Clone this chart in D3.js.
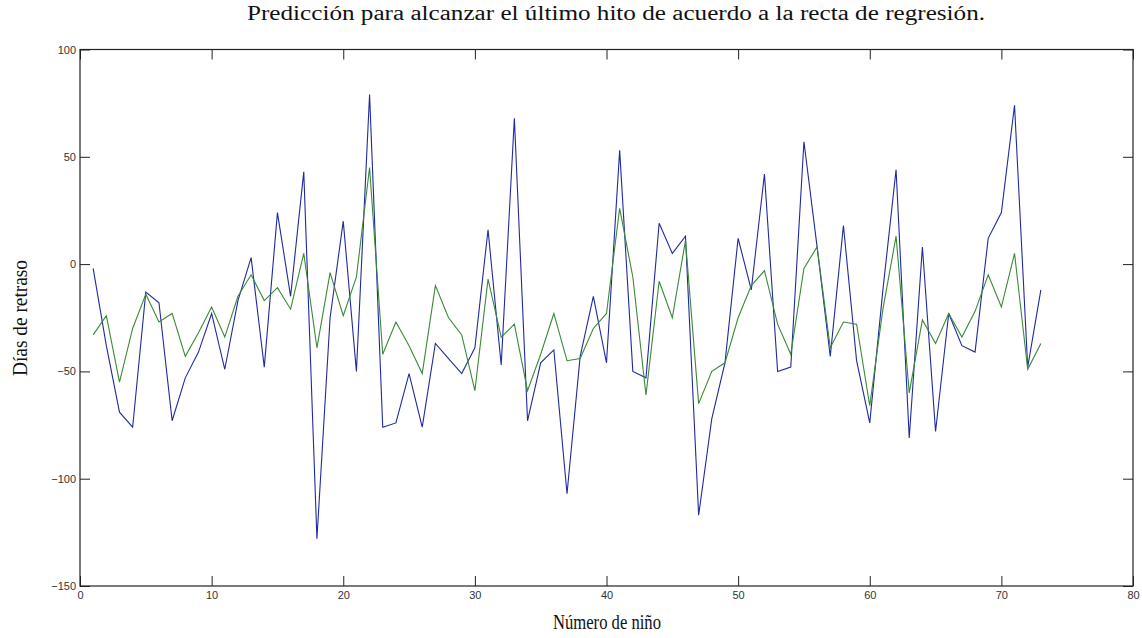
<!DOCTYPE html>
<html>
<head>
<meta charset="utf-8">
<script src="https://cdn.jsdelivr.net/npm/d3@7"></script>
<style>
  html, body { margin: 0; padding: 0; background: #fff; }
  svg { display: block; }
</style>
</head>
<body>
<svg id="chart" width="1142" height="638"></svg>
<script>
// ---- data ----
const ninos = d3.range(1, 74);
const retrasoReal = [
  -2, -38, -69, -76, -13, -18, -73, -53, -41, -23,
  -49, -17, 3, -48, 24, -15, 43, -128, -25, 20,
  -50, 79, -76, -74, -51, -76, -37, -44, -51, -39,
  16, -47, 68, -73, -46, -40, -107, -43, -15, -46,
  53, -50, -53, 19, 5, 13, -117, -72, -46, 12,
  -12, 42, -50, -48, 57, 8, -43, 18, -45, -74,
  -12, 44, -81, 8, -78, -23, -38, -41, 12, 24,
  74, -48, -12
];
const retrasoPredicho = [
  -33, -24, -55, -30, -14, -27, -23, -43, -32, -20,
  -34, -15, -5, -17, -11, -21, 5, -39, -4, -24,
  -6, 45, -42, -27, -38, -51, -10, -25, -33, -59,
  -7, -34, -28, -59, -42, -23, -45, -44, -30, -23,
  26, -6, -61, -8, -25, 11, -65, -50, -46, -25,
  -10, -3, -28, -42, -2, 8, -39, -27, -28, -66,
  -21, 13, -60, -26, -37, -23, -34, -22, -5, -20,
  5, -49, -37
];
const xTicks = [0, 10, 20, 30, 40, 50, 60, 70, 80];
const yTicks = [-150, -100, -50, 0, 50, 100];
const titulo = "Predicción para alcanzar el último hito de acuerdo a la recta de regresión.";
const etiquetaX = "Número de niño";
const etiquetaY = "Días de retraso";

// ---- layout ----
const svg = d3.select("#chart");
const L = 80, R = 1133, T = 49.5, B = 586;
const x = d3.scaleLinear().domain([0, 80]).range([L, R]);
const y = d3.scaleLinear().domain([-150, 100]).range([B, T]);

svg.append("rect").attr("width", 1142).attr("height", 638).attr("fill", "#fff");

const tickFont = "'Liberation Sans Narrow', 'Arial Narrow', 'Liberation Sans', sans-serif";
const tickLen = 10;

const gB = svg.append("g").attr("transform", `translate(0,${B})`)
  .call(d3.axisBottom(x).tickValues(xTicks).tickFormat(d3.format("d")).tickSizeInner(-tickLen).tickSizeOuter(0).tickPadding(6));
const gT = svg.append("g").attr("transform", `translate(0,${T})`)
  .call(d3.axisTop(x).tickValues(xTicks).tickFormat("").tickSizeInner(-tickLen).tickSizeOuter(0));
const gL = svg.append("g").attr("transform", `translate(${L},0)`)
  .call(d3.axisLeft(y).tickValues(yTicks).tickFormat(d3.format("d")).tickSizeInner(-tickLen).tickSizeOuter(0).tickPadding(4));
const gR = svg.append("g").attr("transform", `translate(${R},0)`)
  .call(d3.axisRight(y).tickValues(yTicks).tickFormat("").tickSizeInner(-tickLen).tickSizeOuter(0));

[gB, gT, gL, gR].forEach(g => {
  g.select(".domain").remove();
  g.selectAll(".tick line").attr("stroke", "#222").attr("stroke-width", 1);
  g.selectAll(".tick text").attr("font-family", tickFont).attr("font-size", 11).attr("fill", "#333");
});
gB.selectAll(".tick text").attr("dy", "0.6em");

svg.append("rect")
  .attr("x", L).attr("y", T).attr("width", R - L).attr("height", B - T)
  .attr("fill", "none").attr("stroke", "#222").attr("stroke-width", 1.2);

const line = vals => d3.line().x((d, i) => x(ninos[i])).y(d => y(d))(vals);
svg.append("path").attr("d", line(retrasoReal))
  .attr("fill", "none").attr("stroke", "#1f2aa0").attr("stroke-width", 1.1);
svg.append("path").attr("d", line(retrasoPredicho))
  .attr("fill", "none").attr("stroke", "#3a8a36").attr("stroke-width", 1.1);

const serif = "'Liberation Serif', 'DejaVu Serif', serif";
svg.append("text").text(titulo)
  .attr("x", 616).attr("y", 20).attr("text-anchor", "middle")
  .attr("font-family", serif).attr("font-size", 20.5).attr("fill", "#111")
  .attr("textLength", 738).attr("lengthAdjust", "spacingAndGlyphs");
svg.append("text").text(etiquetaX)
  .attr("x", 607).attr("y", 629).attr("text-anchor", "middle")
  .attr("font-family", serif).attr("font-size", 20.5).attr("fill", "#111")
  .attr("textLength", 108).attr("lengthAdjust", "spacingAndGlyphs");
svg.append("text").text(etiquetaY)
  .attr("transform", "translate(27,318) rotate(-90)").attr("text-anchor", "middle")
  .attr("font-family", serif).attr("font-size", 20.5).attr("fill", "#111")
  .attr("textLength", 116).attr("lengthAdjust", "spacingAndGlyphs");
</script>
</body>
</html>
